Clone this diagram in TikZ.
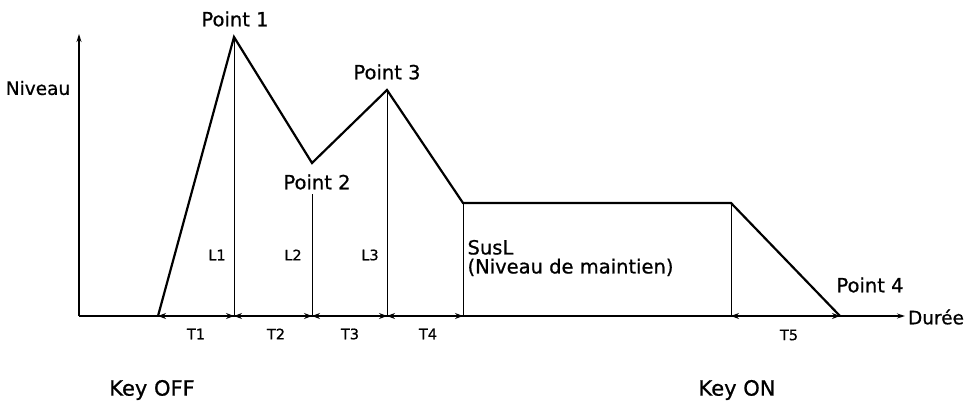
\documentclass[tikz,border=0pt]{standalone}
\usepackage{fontspec}
\setmainfont[FakeBold=0.8,AutoFakeBold=0.8]{DejaVu Sans}
\usetikzlibrary{arrows.meta}
\begin{document}
\begin{tikzpicture}[x=1pt,y=-1pt,
  env/.style={line width=2.2pt,line join=miter},
  guide/.style={line width=1pt},
  axis/.style={line width=1.2pt},
  dim/.style={line width=1pt,{Stealth[length=8pt,width=6pt]}-{Stealth[length=8pt,width=6pt]}},
  big/.style={font=\fontsize{19.5}{22}\selectfont\bfseries},
  small/.style={font=\fontsize{14.5}{17}\selectfont},
  mid/.style={font=\fontsize{19.5}{19}\selectfont,align=left}]
\useasboundingbox (0,0) rectangle (973,409);
% key points
\coordinate (O) at (79,316);
\coordinate (Yt) at (79,34);
\coordinate (S) at (158,316);
\coordinate (P1) at (234,37);
\coordinate (P2) at (312,163);
\coordinate (P3) at (387,90);
\coordinate (Q) at (463,203);
\coordinate (R) at (731,203);
\coordinate (P4) at (840,316);
\coordinate (Xe) at (905,316);
\coordinate (F1) at (234,316);
\coordinate (F2) at (312,316);
\coordinate (F3) at (387,316);
\coordinate (F4) at (463,316);
\coordinate (F5) at (731,316);
\coordinate (P2v) at (312,194);
% axes
\draw[axis,-{Stealth[length=8pt,width=5pt]}] (O) -- (Yt);
\draw[axis,-{Stealth[length=8pt,width=5pt]}] (O) -- (Xe);
% guides
\draw[guide] (P1) -- (F1);
\draw[guide] (P2v) -- (F2);
\draw[guide] (P3) -- (F3);
\draw[guide] (Q) -- (F4);
\draw[guide] (R) -- (F5);
% envelope
\draw[env] (S) -- (P1) -- (P2) -- (P3) -- (Q) -- (R) -- (P4);
% time arrows
\draw[dim] (S) -- (F1);
\draw[dim] (F1) -- (F2);
\draw[dim] (F2) -- (F3);
\draw[dim] (F3) -- (F4);
\draw[dim] (F5) -- (P4);
% labels
\node[font=\fontsize{18.5}{22}\selectfont\bfseries] (niv) at (38,88) {Niveau};
\node[font=\fontsize{18.5}{22}\selectfont\bfseries] (dur) at (936,317) {Durée};
\node[big] (lp1) at (235,19) {Point 1};
\node[big] (lp2) at (317,182) {Point 2};
\node[big] (lp3) at (387,72) {Point 3};
\node[big] (lp4) at (870,285) {Point 4};
\node[small] (l1) at (217,255) {L1};
\node[small] (l2) at (293,255) {L2};
\node[small] (l3) at (370,255) {L3};
\node[small] (t1) at (196,334) {T1};
\node[small] (t2) at (276,334) {T2};
\node[small] (t3) at (350,334) {T3};
\node[small] (t4) at (428,334) {T4};
\node[small] (t5) at (789,335) {T5};
\node[mid,anchor=west] (sus) at (464,258) {SusL\\(Niveau de maintien)};
\node[font=\fontsize{21}{24}\selectfont\bfseries] (koff) at (152,390) {Key OFF};
\node[font=\fontsize{21}{24}\selectfont\bfseries] (kon) at (737,390) {Key ON};
\end{tikzpicture}
\end{document}
